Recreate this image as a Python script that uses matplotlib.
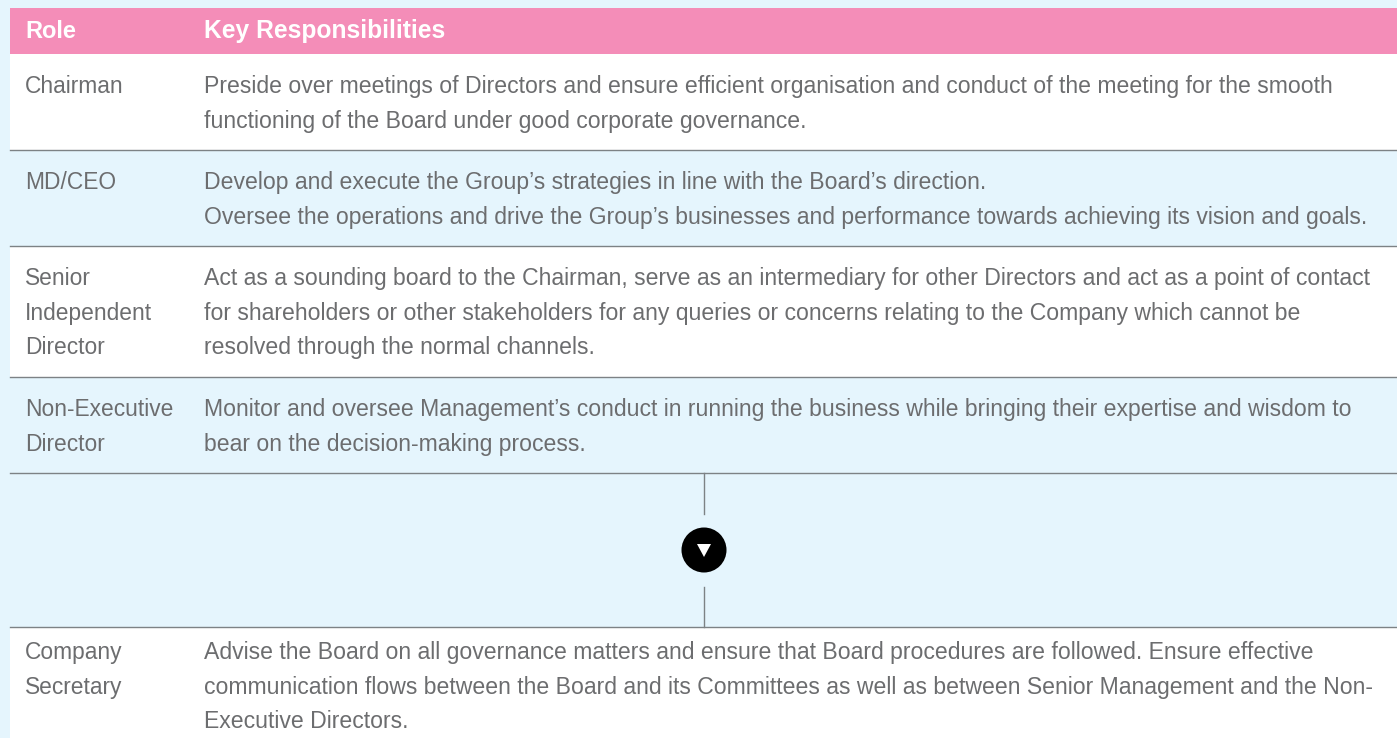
import matplotlib
matplotlib.use("Agg")
import matplotlib.pyplot as plt
from matplotlib.patches import Rectangle, Circle, Polygon

plt.rcParams['font.family'] = ['Liberation Sans', 'DejaVu Sans']

header = ["Role", "Key Responsibilities"]
roles = [
    ["Chairman"],
    ["MD/CEO"],
    ["Senior", "Independent", "Director"],
    ["Non-Executive", "Director"],
    ["Company", "Secretary"],
]
duties = [
    ["Preside over meetings of Directors and ensure efficient organisation and conduct of the meeting for the smooth",
     "functioning of the Board under good corporate governance."],
    ["Develop and execute the Group’s strategies in line with the Board’s direction.",
     "Oversee the operations and drive the Group’s businesses and performance towards achieving its vision and goals."],
    ["Act as a sounding board to the Chairman, serve as an intermediary for other Directors and act as a point of contact",
     "for shareholders or other stakeholders for any queries or concerns relating to the Company which cannot be",
     "resolved through the normal channels."],
    ["Monitor and oversee Management’s conduct in running the business while bringing their expertise and wisdom to",
     "bear on the decision-making process."],
    ["Advise the Board on all governance matters and ensure that Board procedures are followed. Ensure effective",
     "communication flows between the Board and its Committees as well as between Senior Management and the Non-",
     "Executive Directors."],
]
row_top = [54, 150, 246, 377, 627]
row_bottom = [150, 246, 377, 473, 738]
row_fill = ['white', '#e5f5fd', 'white', '#e5f5fd', 'white']
first_line = [93, 189, 285, 416, 659]
line_gap = 34.7

W, H = 1397, 738
bg = '#e5f5fd'
pink = '#f48db8'
grey = '#6c6d6f'
rule = '#7d8285'

fig = plt.figure(figsize=(W/100, H/100), dpi=100, facecolor=bg)
ax = fig.add_axes([0, 0, 1, 1])
ax.set_xlim(0, W)
ax.set_ylim(H, 0)
ax.axis('off')

ax.add_patch(Rectangle((10, 8), W-10, 46, fc=pink, ec='none'))
ax.text(25, 38, header[0], color='white', fontsize=17.0, fontweight='bold', va='baseline')
ax.text(204, 38, header[1], color='white', fontsize=17.7, fontweight='bold', va='baseline')

for i in range(len(roles)):
    ax.add_patch(Rectangle((10, row_top[i]), W-10, row_bottom[i]-row_top[i], fc=row_fill[i], ec='none'))
    for j, s in enumerate(roles[i]):
        ax.text(25, first_line[i]+j*line_gap, s, color=grey, fontsize=16.4, va='baseline')
    for j, s in enumerate(duties[i]):
        ax.text(204, first_line[i]+j*line_gap, s, color=grey, fontsize=16.58, va='baseline')

for y in [150, 246, 377, 473, 627]:
    ax.plot([10, W], [y, y], color=rule, lw=1)

# connector between the two groups
ax.plot([704, 704], [473, 514], color=rule, lw=1)
ax.plot([704, 704], [587, 627], color=rule, lw=1)
ax.add_patch(Circle((704, 550), 22.5, fc='black', ec='none'))
ax.add_patch(Polygon([[697, 544], [711, 544], [704, 557]], fc='white', ec='none'))

fig.savefig('out.png', dpi=100, facecolor=bg)
